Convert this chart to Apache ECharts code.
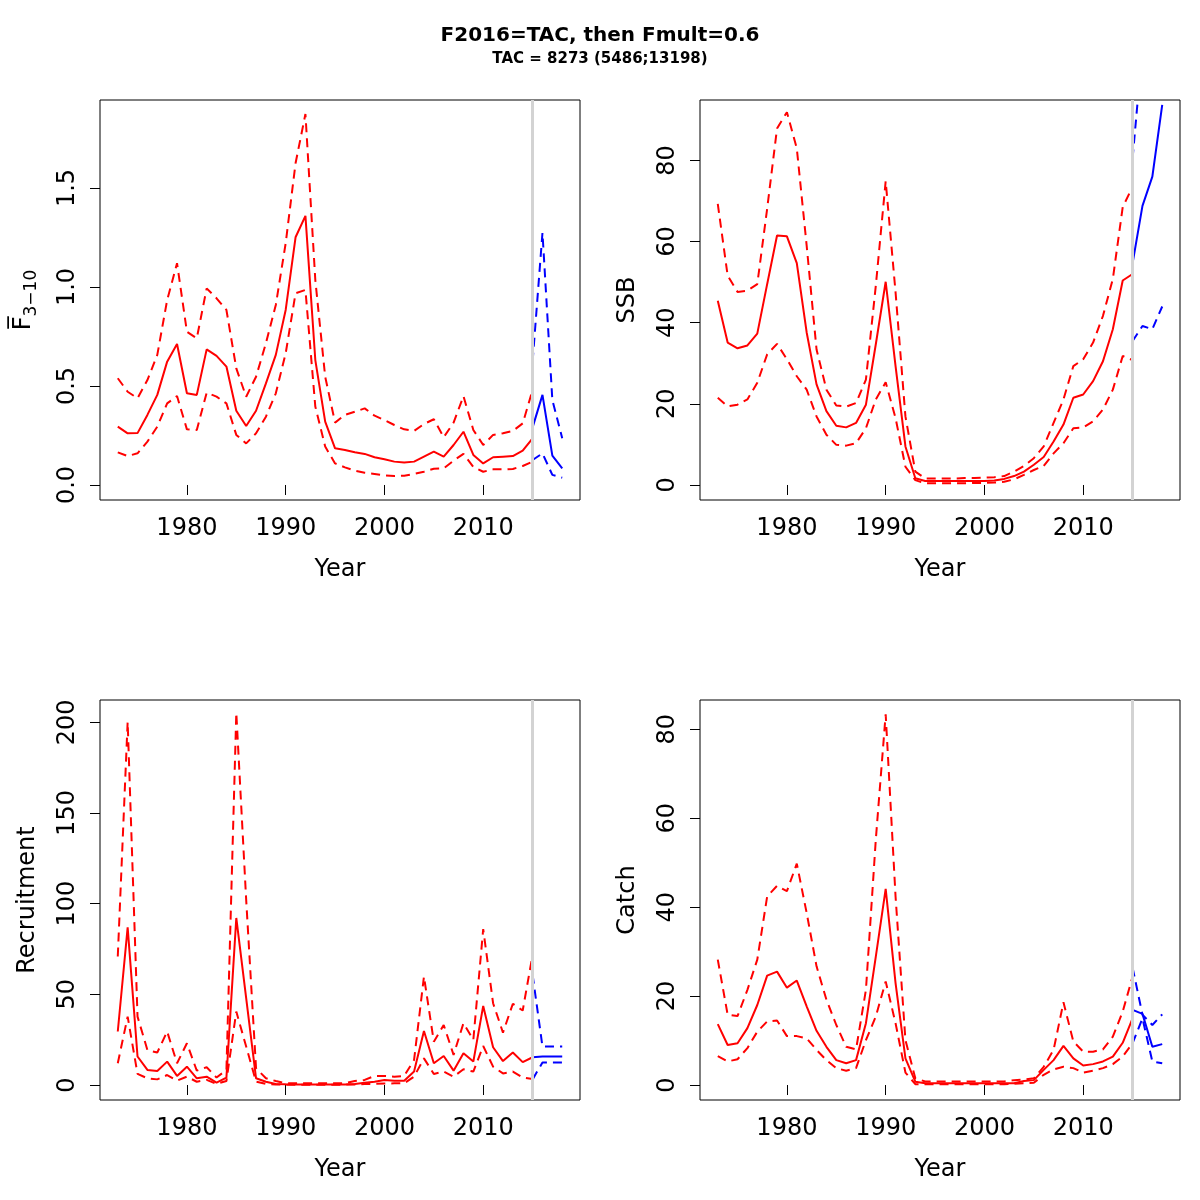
<!DOCTYPE html>
<html>
<head>
<meta charset="utf-8">
<script src="https://cdn.jsdelivr.net/npm/echarts@6/dist/echarts.min.js"></script>
<style>html,body{margin:0;padding:0;background:#fff}#c{width:1200px;height:1200px}</style>
</head>
<body>
<div id="c"></div>
<script>
// ---------- data ----------
const titleText = 'F2016=TAC, then Fmult=0.6';
const subtitleText = 'TAC = 8273 (5486;13198)';
const firstYear = 1973;
const lastHistYear = 2015;
const forecastYears = [2015, 2016, 2017, 2018];
const xTicks = [1980, 1990, 2000, 2010];

const fMean = [0.295,0.261,0.262,0.354,0.455,0.623,0.712,0.463,0.455,0.685,
  0.652,0.598,0.375,0.298,0.375,0.513,0.657,0.884,1.251,1.359,
  0.631,0.320,0.185,0.177,0.165,0.157,0.140,0.130,0.118,0.113,
  0.118,0.143,0.168,0.143,0.202,0.269,0.152,0.109,0.140,0.143,
  0.146,0.173,0.236];
const fUpper = [0.539,0.471,0.438,0.530,0.657,0.934,1.120,0.774,0.741,0.993,
  0.943,0.884,0.589,0.446,0.547,0.716,0.909,1.221,1.625,1.874,
  1.035,0.547,0.315,0.354,0.370,0.387,0.350,0.328,0.303,0.281,
  0.273,0.308,0.332,0.241,0.315,0.449,0.278,0.202,0.253,0.261,
  0.273,0.311,0.480];
const fLower = [0.165,0.146,0.160,0.219,0.295,0.412,0.449,0.281,0.278,0.466,
  0.446,0.412,0.253,0.210,0.261,0.345,0.463,0.665,0.968,0.985,
  0.396,0.194,0.109,0.089,0.072,0.062,0.056,0.049,0.045,0.047,
  0.056,0.067,0.082,0.084,0.123,0.157,0.091,0.067,0.079,0.079,
  0.081,0.096,0.118];
const fFcMean = [0.291,0.455,0.148,0.084];
const fFcUpper = [0.623,1.274,0.429,0.236];
const fFcLower = [0.126,0.160,0.051,0.037];

const ssbMean = [45.4,35.1,33.7,34.4,37.3,49.5,61.5,61.3,54.7,37.6,
  24.8,18.2,14.6,14.2,15.3,19.8,34.7,50.1,29.3,9.5,
  1.65,1.0,1.0,1.0,1.0,1.0,1.0,1.0,1.1,1.5,
  2.2,3.3,5.0,6.9,10.7,14.9,21.5,22.3,25.6,30.5,
  38.4,50.4,52.0];
const ssbUpper = [69.3,51.6,47.6,47.9,49.5,68.1,87.9,91.9,83.0,59.0,
  33.4,23.5,19.6,19.3,20.2,26.0,49.1,74.9,47.5,16.9,
  3.3,1.6,1.6,1.6,1.6,1.7,1.7,1.8,1.9,2.2,
  3.3,4.7,6.6,9.5,15.3,21.1,29.3,31.0,35.1,41.7,
  50.8,68.5,73.5];
const ssbLower = [21.5,19.4,19.8,21.1,25.2,32.2,34.8,31.0,26.8,23.5,
  16.9,12.4,9.9,9.7,10.3,14.0,21.1,25.3,16.5,4.5,
  1.2,0.4,0.4,0.4,0.4,0.4,0.5,0.5,0.6,0.8,
  1.4,2.5,3.7,4.7,7.8,10.3,14.0,14.2,15.7,18.6,
  23.5,31.8,30.8];
const ssbFcMean = [54.7,68.8,76.0,93.7];
const ssbFcUpper = [80.5,108,118,140];
const ssbFcLower = [35.5,39.2,38.4,44.0];

const recMean = [29.5,86.9,15.7,8.3,7.7,12.9,5.0,10.1,3.7,4.6,
  1.3,4.1,92.1,47.9,3.7,1.8,0.6,0.4,0.3,0.3,
  0.3,0.3,0.3,0.3,0.6,1.3,1.8,2.8,2.4,2.4,
  7.4,29.8,12.0,16.0,7.9,17.5,12.9,43.6,20.8,13.2,
  17.9,12.6,15.3];
const recUpper = [70.9,200.2,37.7,19.3,17.9,29.5,12.0,23.0,7.9,9.8,
  4.1,8.3,205.3,102.2,9.2,3.7,2.2,1.0,0.9,1.0,
  0.9,0.9,0.9,1.0,2.2,2.8,5.0,5.0,4.6,5.0,
  13.8,59.8,23.9,33.1,16.6,34.1,24.9,86.0,45.1,28.9,
  44.8,41.1,71.8];
const recLower = [12.0,37.7,6.1,3.7,3.1,5.5,2.4,4.6,1.8,2.8,
  0.6,2.2,40.5,21.2,1.8,0.6,0.3,0.2,0.2,0.2,
  0.2,0.2,0.2,0.2,0.3,0.5,0.7,0.8,0.9,0.9,
  4.6,14.7,6.1,7.4,4.6,8.7,7.4,21.5,10.1,6.4,
  7.4,4.1,3.3];
const recFcMean = [15.3,15.7,15.7,15.7];
const recFcUpper = [60.8,21.2,21.2,21.2];
const recFcLower = [3.1,12.4,12.4,12.4];

const catchMean = [13.7,9.0,9.4,12.8,18.0,24.6,25.5,21.9,23.5,17.7,
  12.2,8.6,5.6,4.9,5.6,13.9,28.9,44.1,22.9,6.0,
  0.75,0.4,0.4,0.4,0.4,0.4,0.4,0.4,0.4,0.4,
  0.4,0.9,1.1,3.4,5.6,8.8,6.0,4.4,4.7,5.3,
  6.4,9.5,15.0];
const catchUpper = [28.2,15.8,15.5,21.4,28.2,42.4,44.8,43.6,49.8,38.7,
  26.7,19.2,13.5,8.6,8.0,21.4,55.2,83.4,42.4,10.1,
  1.5,0.8,0.8,0.8,0.8,0.8,0.8,0.8,0.8,0.8,
  1.1,1.2,1.5,4.1,7.9,18.6,9.8,7.5,7.5,8.0,
  10.9,16.5,24.4];
const catchLower = [6.5,5.3,5.8,8.3,12.0,14.3,14.5,11.0,11.0,10.5,
  7.9,5.6,3.8,3.2,3.8,10.1,15.4,23.3,13.9,2.8,
  0.2,0.2,0.2,0.2,0.2,0.2,0.2,0.2,0.2,0.2,
  0.3,0.4,0.5,2.3,3.5,4.1,3.8,2.8,3.2,3.8,
  4.7,6.4,9.4];
const catchFcMean = [16.9,16.0,8.6,9.2];
const catchFcUpper = [26.4,15.8,13.5,15.9];
const catchFcLower = [9.4,15.0,5.3,4.9];

const fTicks = [0, 0.5, 1.0, 1.5];
const ssbTicks = [0, 20, 40, 60, 80];
const recTicks = [0, 50, 100, 150, 200];
const catchTicks = [0, 20, 40, 60, 80];

// ---------- chart ----------
const FONT = 'DejaVu Sans';
const histYears = [];
for (let y = firstYear; y <= lastHistYear; y++) histYears.push(y);
const pairs = (xs, vs) => xs.map((x, i) => [x, vs[i]]);

const panels = [
  {left: 100, top: 100, name: '{f|F\u0305}{s|3\u221210}', ticks: fTicks, dec: 1, min: -0.0758, max: 1.9444,
   m: fMean, u: fUpper, l: fLower, fm: fFcMean, fu: fFcUpper, fl: fFcLower},
  {left: 700, top: 100, name: 'SSB', ticks: ssbTicks, dec: 0, min: -3.70, max: 94.9,
   m: ssbMean, u: ssbUpper, l: ssbLower, fm: ssbFcMean, fu: ssbFcUpper, fl: ssbFcLower},
  {left: 100, top: 700, name: 'Recruitment', ticks: recTicks, dec: 0, min: -8.27, max: 212.3,
   m: recMean, u: recUpper, l: recLower, fm: recFcMean, fu: recFcUpper, fl: recFcLower},
  {left: 700, top: 700, name: 'Catch', ticks: catchTicks, dec: 0, min: -3.37, max: 86.6,
   m: catchMean, u: catchUpper, l: catchLower, fm: catchFcMean, fu: catchFcUpper, fl: catchFcLower}
];

const xPad = (forecastYears[forecastYears.length - 1] - firstYear) * 0.04;
const grid = [], xAxis = [], yAxis = [], series = [];
const RED = '#FF0000', BLUE = '#0000FF';
const DASH = [9, 6];
const FS = 24;

panels.forEach((p, i) => {
  grid.push({left: p.left, top: p.top, width: 480, height: 400, show: true,
    borderColor: '#000', borderWidth: 1, backgroundColor: 'transparent'});
  xAxis.push({type: 'value', gridIndex: i, min: firstYear - xPad, max: forecastYears[forecastYears.length - 1] + xPad,
    name: 'Year', nameLocation: 'middle', nameGap: 58,
    nameTextStyle: {fontFamily: FONT, fontSize: FS, color: '#000'},
    axisLine: {show: false}, splitLine: {show: false},
    axisTick: {show: true, length: 10, lineStyle: {color: '#000'}, customValues: xTicks},
    axisLabel: {fontFamily: FONT, fontSize: FS, color: '#000', margin: 17, customValues: xTicks,
      formatter: v => String(v)}});
  yAxis.push({type: 'value', gridIndex: i, min: p.min, max: p.max,
    name: p.name, nameLocation: 'middle', nameRotate: 90, nameGap: 60,
    nameTextStyle: {fontFamily: FONT, fontSize: FS, color: '#000',
      rich: {f: {fontFamily: FONT, fontSize: FS, color: '#000', lineHeight: 32},
             s: {fontFamily: FONT, fontSize: 17, color: '#000', verticalAlign: 'bottom', padding: [13, 0, 0, 0]}}},
    axisLine: {show: false}, splitLine: {show: false},
    axisTick: {show: true, length: 10, lineStyle: {color: '#000'}, customValues: p.ticks},
    axisLabel: {fontFamily: FONT, fontSize: FS, color: '#000', margin: 20, rotate: 90, customValues: p.ticks,
      formatter: v => Number(v).toFixed(p.dec)}});

  const line = (data, color, dashed, extra) => Object.assign({
    type: 'line', xAxisIndex: i, yAxisIndex: i, data: data, symbol: 'none', silent: true,
    animation: false, clip: true,
    lineStyle: {color: color, width: 2, type: dashed ? DASH : 'solid'}}, extra || {});

  series.push(line(pairs(histYears, p.m), RED, false, {
    markLine: {silent: true, symbol: 'none', label: {show: false}, animation: false,
      lineStyle: {color: '#D3D3D3', width: 3, type: 'solid'}, data: [{xAxis: lastHistYear}]},
    z: 3}));
  series.push(line(pairs(histYears, p.u), RED, true));
  series.push(line(pairs(histYears, p.l), RED, true));
  series.push(line(pairs(forecastYears, p.fm), BLUE, false));
  series.push(line(pairs(forecastYears, p.fu), BLUE, true));
  series.push(line(pairs(forecastYears, p.fl), BLUE, true));
});

const chart = echarts.init(document.getElementById('c'), null, {renderer: 'canvas'});
chart.setOption({
  backgroundColor: '#fff',
  animation: false,
  title: [
    {text: titleText, left: 'center', top: 21,
     textStyle: {fontFamily: FONT, fontSize: 20, fontWeight: 'bold', color: '#000'}},
    {text: subtitleText, left: 'center', top: 47,
     textStyle: {fontFamily: FONT, fontSize: 15, fontWeight: 'bold', color: '#000'}}
  ],
  grid: grid, xAxis: xAxis, yAxis: yAxis, series: series
});
</script>
</body>
</html>
